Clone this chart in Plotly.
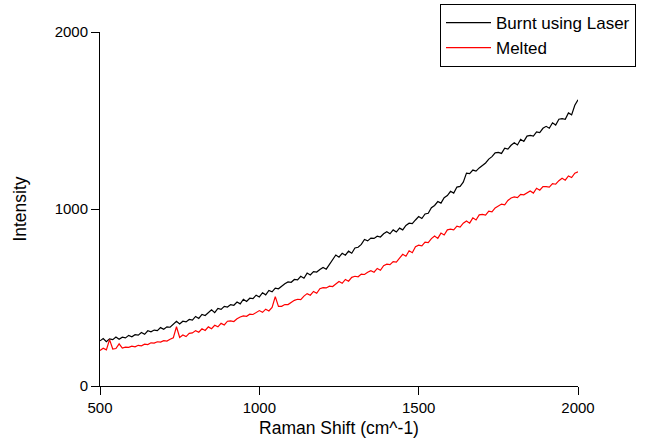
import plotly.graph_objects as go

raman_shift = list(range(500, 2001, 10))

burnt_laser = [
    255, 268, 250, 266, 262, 277, 264, 276, 272, 286, 278,
    290, 287, 302, 292, 312, 306, 316, 313, 330, 321,
    334, 332, 348, 365, 350, 366, 362, 376, 372, 393,
    382, 404, 398, 416, 430, 414, 438, 433, 450, 446,
    460, 456, 474, 464, 490, 478, 496, 494, 513, 503,
    527, 515, 540, 532, 553, 549, 566, 578, 588, 586,
    602, 600, 620, 609, 638, 627, 646, 644, 658, 670,
    660, 686, 718, 740, 728, 750, 739, 762, 750, 780,
    784, 800, 828, 820, 836, 834, 846, 842, 860, 872,
    860, 882, 870, 892, 882, 907, 920, 917, 938, 957,
    946, 972, 976, 1007, 1020, 1042, 1033, 1064, 1076, 1100,
    1090, 1124, 1128, 1152, 1203, 1200, 1220, 1214, 1232, 1247,
    1260, 1282, 1296, 1317, 1320, 1314, 1343, 1338, 1360, 1374,
    1362, 1394, 1382, 1412, 1416, 1412, 1436, 1432, 1456, 1467,
    1456, 1487, 1474, 1507, 1510, 1507, 1543, 1532, 1586, 1617,
]

melted = [
    200, 213, 204, 262, 209, 212, 238, 214, 220, 218, 225,
    221, 230, 227, 236, 234, 244, 242, 250, 248, 256,
    254, 264, 272, 335, 274, 288, 279, 297, 300, 313,
    304, 323, 314, 334, 324, 343, 334, 354, 345, 366,
    368, 364, 380, 390, 396, 394, 406, 404, 416, 426,
    416, 434, 424, 444, 505, 450, 450, 460, 460, 472,
    484, 490, 488, 508, 522, 513, 534, 524, 550, 556,
    554, 564, 562, 576, 590, 580, 602, 592, 614, 620,
    617, 632, 630, 643, 652, 643, 664, 654, 680, 688,
    686, 703, 700, 723, 744, 733, 764, 753, 787, 796,
    792, 813, 810, 833, 847, 834, 864, 853, 882, 886,
    882, 903, 898, 920, 932, 920, 950, 938, 967, 970,
    966, 988, 984, 1006, 1017, 1028, 1024, 1048, 1062, 1068,
    1064, 1083, 1080, 1093, 1102, 1090, 1117, 1106, 1127, 1126,
    1124, 1143, 1140, 1160, 1174, 1163, 1187, 1178, 1202, 1210,
]

x_ticks = [500, 1000, 1500, 2000]
y_ticks = [0, 1000, 2000]

font = "Liberation Sans, Arial, sans-serif"

fig = go.Figure()
fig.add_trace(go.Scatter(x=raman_shift, y=burnt_laser, mode="lines",
                         name="Burnt using Laser",
                         line=dict(color="black", width=1.2)))
fig.add_trace(go.Scatter(x=raman_shift, y=melted, mode="lines",
                         name="Melted",
                         line=dict(color="red", width=1.2)))

fig.update_layout(
    width=647, height=442,
    paper_bgcolor="white", plot_bgcolor="white",
    margin=dict(l=100, r=69, t=32, b=56, autoexpand=False),
    font=dict(family=font, size=15, color="black"),
    showlegend=True,
    legend=dict(x=(440 - 100) / 478, y=1 + (32 - 4) / 354,
                xanchor="left", yanchor="top",
                bordercolor="black", borderwidth=1, bgcolor="white",
                font=dict(family=font, size=17, color="black"),
                itemwidth=45, tracegroupgap=0),
    xaxis=dict(range=[500, 2000], tickvals=x_ticks,
               ticktext=[str(v) for v in x_ticks],
               showline=True, linecolor="black", linewidth=1,
               ticks="outside", ticklen=8, tickcolor="black",
               showgrid=False, zeroline=False,
               title=dict(text="Raman Shift (cm^-1)",
                          font=dict(size=17.5), standoff=6),
               tickfont=dict(size=15)),
    yaxis=dict(range=[0, 2000], tickvals=y_ticks,
               ticktext=[str(v) for v in y_ticks],
               showline=True, linecolor="black", linewidth=1,
               ticks="outside", ticklen=8, tickcolor="black",
               showgrid=False, zeroline=False,
               title=dict(text="Intensity", font=dict(size=17.5),
                          standoff=23),
               tickfont=dict(size=15)),
)

fig.write_html("out.html")
